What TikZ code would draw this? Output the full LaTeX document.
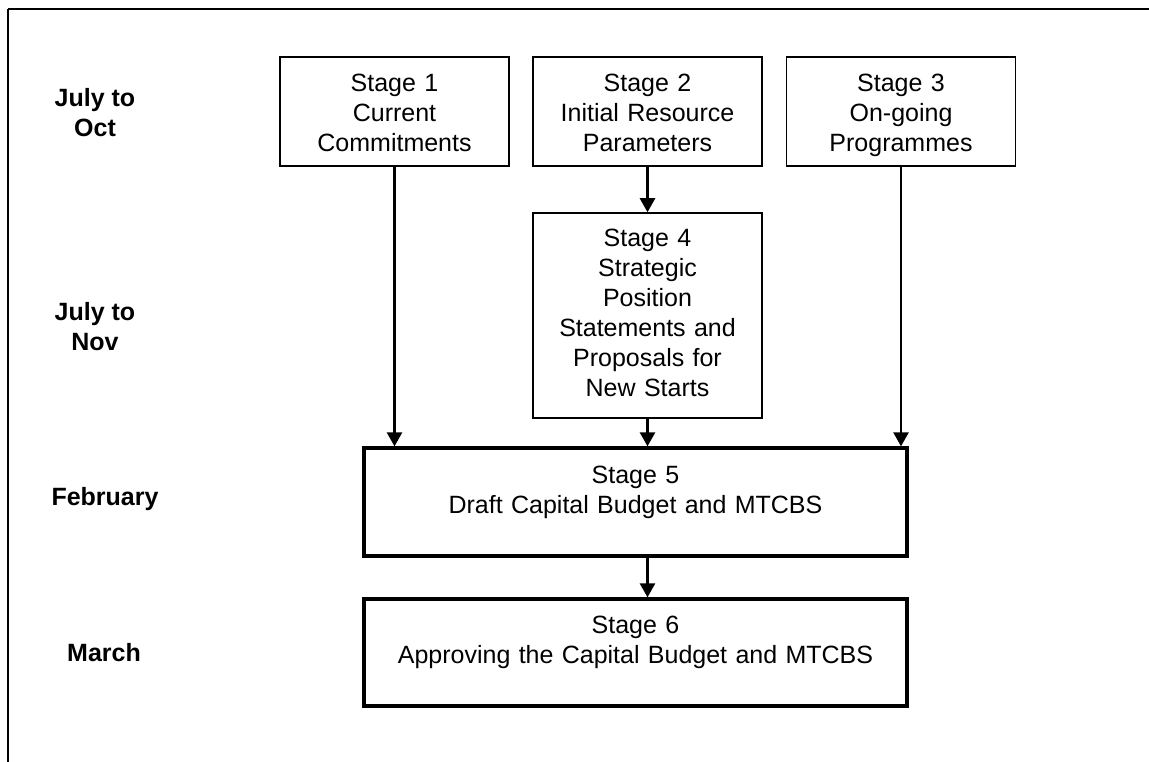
\documentclass[tikz,border=0pt]{standalone}
\usepackage{fontspec}
\setmainfont{Liberation Sans}
\usetikzlibrary{arrows.meta}

\begin{document}
\begin{tikzpicture}[x=1pt, y=-1pt,
	stagebox/.style={shape=rectangle, draw=black, line width=1.5pt, inner sep=0pt,
		minimum width=229pt, minimum height=109pt, text width=222pt, align=center,
		font=\fontsize{25}{30}\selectfont, text height=21pt, text depth=60pt},
	widebox/.style={stagebox, line width=3.3pt, minimum width=543pt, minimum height=108pt,
		text width=530pt, text depth=59pt},
	period/.style={align=center, font=\fontsize{25}{30}\selectfont\bfseries},
	flow/.style={line width=2.5pt, -{Triangle[width=15pt,length=14pt]}}]
	\useasboundingbox (0, 0) rectangle (1149, 762);
	\draw[line width=2pt] (8, 9) -- (1149, 9);
	\draw[line width=1.2pt] (8, 9) -- (8, 762);

	\node[period] (oct) at (95, 113)     {July to\\Oct};
	\node[period] (nov) at (95, 327)     {July to\\Nov};
	\node[period] (feb) at (105, 499)    {February};
	\node[period] (mar) at (104, 653)    {March};

	\node[stagebox] (s1) at (394.5, 111.5)  {Stage 1\\Current\\Commitments};
	\node[stagebox] (s2) at (647.5, 111.5)  {Stage 2\\Initial Resource\\Parameters};
	\node[stagebox] (s3) at (901, 111.5)    {Stage 3\\On-going\\Programmes};
	\node[stagebox, minimum height=205pt, text depth=158pt] (s4) at (647.5, 315.5)
		{Stage 4\\Strategic\\Position\\Statements and\\Proposals for\\New Starts};
	\node[widebox] (s5) at (635.5, 502)    {Stage 5\\Draft Capital Budget and MTCBS};
	\node[widebox, minimum height=107pt] (s6) at (635.5, 652.5)
		{Stage 6\\Approving the Capital Budget and MTCBS};

	\draw[flow] (s1.south) -- (s1.south |- s5.north);
	\draw[flow] (s2.south) -- (s4.north);
	\draw[flow] (s3.south) -- (s3.south |- s5.north);
	\draw[flow] (s4.south) -- (s4.south |- s5.north);
	\draw[flow] (s4.south |- s5.south) -- (s4.south |- s6.north);

\end{tikzpicture}
\end{document}
